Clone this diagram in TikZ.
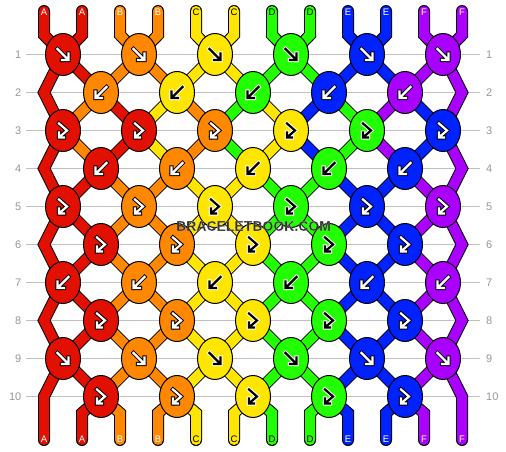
\documentclass[tikz,border=0pt]{standalone}
\usepackage{fontspec}
\setmainfont{Liberation Sans}
\usetikzlibrary{shapes.geometric}
\definecolor{cA}{RGB}{226,16,0}
\definecolor{cB}{RGB}{255,136,0}
\definecolor{cC}{RGB}{255,230,0}
\definecolor{cD}{RGB}{34,255,0}
\definecolor{cE}{RGB}{0,34,255}
\definecolor{cF}{RGB}{170,0,255}
\colorlet{fgcA}{white}\colorlet{olcA}{black}
\colorlet{fgcB}{white}\colorlet{olcB}{black}
\colorlet{fgcC}{black}\colorlet{olcC}{white}
\colorlet{fgcD}{black}\colorlet{olcD}{white}
\colorlet{fgcE}{white}\colorlet{olcE}{black}
\colorlet{fgcF}{white}\colorlet{olcF}{black}
\definecolor{gridgray}{RGB}{192,192,192}
\definecolor{numgray}{RGB}{150,150,150}
\definecolor{wmgray}{RGB}{50,50,50}
\pgfdeclarelayer{grid}
\pgfdeclarelayer{strings}
\pgfsetlayers{grid,strings,main}
\tikzset{
  knot/.style={ellipse, draw=black, line width=1pt, minimum width=35pt, minimum height=42pt, inner sep=0pt},
  str/.style={draw=black, line width=1pt, double distance=10pt, line cap=round, line join=miter},
  gF/.pic={\path[pic actions] (-5.5,-5.5) -- (5,5) (5.5,-1) -- (5.5,5.5) -- (-1,5.5);},
  gB/.pic={\path[pic actions] (5.5,-5.5) -- (-5,5) (-5.5,-1) -- (-5.5,5.5) -- (1,5.5);},
  gFB/.pic={\path[pic actions] (-4,-7) -- (4,0) -- (-3.6,6.6) (-4,2) -- (-4,7) -- (1,7);},
  glyphol/.style={line width=4.2pt, line cap=rect, line join=miter},
  glyphfg/.style={line width=2.2pt, line cap=rect, line join=miter},
  lbl/.style={font=\fontsize{9.5}{10}\selectfont, inner sep=0pt},
  rownum/.style={font=\fontsize{11}{12}\selectfont, text=numgray, inner sep=0pt},
  wm/.style={font=\bfseries\fontsize{14}{14}\selectfont, inner sep=0pt},
  gridline/.style={draw=gridgray, line width=1.3pt},
}
\begin{document}
\begin{tikzpicture}[x=1pt,y=-1pt]
\useasboundingbox (0,0) rectangle (506,452);
% grid lines and row numbers
\begin{pgfonlayer}{grid}
\foreach \r in {1,...,10}{
  \pgfmathsetmacro\y{54.5+38*(\r-1)}
  \draw[gridline] (26,\y) -- (480,\y);
}
\end{pgfonlayer}
\foreach \r in {1,...,10}{
  \pgfmathsetmacro\y{54.5+38*(\r-1)}
  \node[rownum, anchor=east] (nl\r) at (21.5,\y) {\r};
  \node[rownum, anchor=west] (nr\r) at (486,\y) {\r};
}
% knots
\foreach \r/\g/\cols in {1/F/{cA,cB,cC,cD,cE,cF},2/B/{cB,cC,cD,cE,cF},3/FB/{cA,cA,cB,cC,cD,cE},4/B/{cA,cB,cC,cD,cE},5/FB/{cA,cB,cC,cD,cE,cF},6/FB/{cA,cB,cC,cD,cE},7/B/{cA,cB,cC,cD,cE,cF},8/FB/{cA,cB,cC,cD,cE},9/F/{cA,cB,cC,cD,cE,cF},10/FB/{cA,cB,cC,cD,cE}}{
  \foreach \c [count=\i] in \cols {
    \pgfmathsetmacro\y{54.5+38*(\r-1)}
    \pgfmathsetmacro\x{isodd(\r) ? 63+76*(\i-1) : 101+76*(\i-1)}
    \node[knot, fill=\c] (k-\r-\i) at (\x,\y) {};
    \pic[draw=ol\c, glyphol] at (k-\r-\i) {g\g};
    \pic[draw=fg\c, glyphfg] at (k-\r-\i) {g\g};
  }
}
% strings
\begin{pgfonlayer}{strings}
\foreach \c [count=\p] in {cA,cA,cB,cB,cC,cC,cD,cD,cE,cE,cF,cF}{
  \pgfmathsetmacro\x{44+38*(\p-1)}
  \pgfmathtruncatemacro\k{int((\p+1)/2)}
  \draw[str, double=\c] (\x,11) -- (\x,35) -- (k-1-\k.center);
}
\foreach \r/\cols in {1/{cA,cB,cB,cC,cC,cD,cD,cE,cE,cF},2/{cB,cA,cC,cB,cD,cC,cE,cD,cF,cE},3/{cB,cA,cC,cB,cD,cC,cE,cD,cF,cE},4/{cA,cB,cB,cC,cC,cD,cD,cE,cE,cF},5/{cA,cB,cB,cC,cC,cD,cD,cE,cE,cF},6/{cA,cB,cB,cC,cC,cD,cD,cE,cE,cF},7/{cA,cB,cB,cC,cC,cD,cD,cE,cE,cF},8/{cA,cB,cB,cC,cC,cD,cD,cE,cE,cF},9/{cA,cB,cB,cC,cC,cD,cD,cE,cE,cF}}{
  \foreach \c [count=\j] in \cols {
    \pgfmathtruncatemacro\hi{int((\j+2)/2)}
    \pgfmathtruncatemacro\lo{int((\j+1)/2)}
    \pgfmathtruncatemacro\rn{\r+1}
    \ifodd\r
      \draw[str, double=\c] (k-\r-\hi.center) -- (k-\rn-\lo.center);
    \else
      \draw[str, double=\c] (k-\r-\lo.center) -- (k-\rn-\hi.center);
    \fi
  }
}
\foreach \r in {1,3,5,7}{
  \pgfmathtruncatemacro\rn{\r+2}
  \pgfmathsetmacro\y{54.5+38*\r}
  \draw[str, double=cA] (k-\r-1.center) -- (44,\y) -- (k-\rn-1.center);
  \draw[str, double=cF] (k-\r-6.center) -- (462,\y) -- (k-\rn-6.center);
}
\draw[str, double=cA] (k-9-1.center) -- (44,396.5) -- (44,440);
\draw[str, double=cF] (k-9-6.center) -- (462,396.5) -- (462,440);
\foreach \c [count=\j] in {cA,cB,cB,cC,cC,cD,cD,cE,cE,cF}{
  \pgfmathsetmacro\x{44+38*\j}
  \pgfmathtruncatemacro\lo{int((\j+1)/2)}
  \draw[str, double=\c] (k-10-\lo.center) -- (\x,413) -- (\x,440);
}
\end{pgfonlayer}
% string labels
\foreach \L/\c [count=\p] in {A/cA,A/cA,B/cB,B/cB,C/cC,C/cC,D/cD,D/cD,E/cE,E/cE,F/cF,F/cF}{
  \pgfmathsetmacro\x{44+38*(\p-1)}
  \node[lbl, text=fg\c] (tl\p) at (\x,12.5) {\L};
  \node[lbl, text=fg\c] (bl\p) at (\x,439.5) {\L};
}
% watermark: dark letters with a thin light stroked outline
\node[wm, text=wmgray] (wm) at (253.5,226) {\special{pdf:code 2 Tr 0.9 0.9 0.9 RG 0.05 w}BRACELETBOOK.COM};
\end{tikzpicture}
\end{document}
